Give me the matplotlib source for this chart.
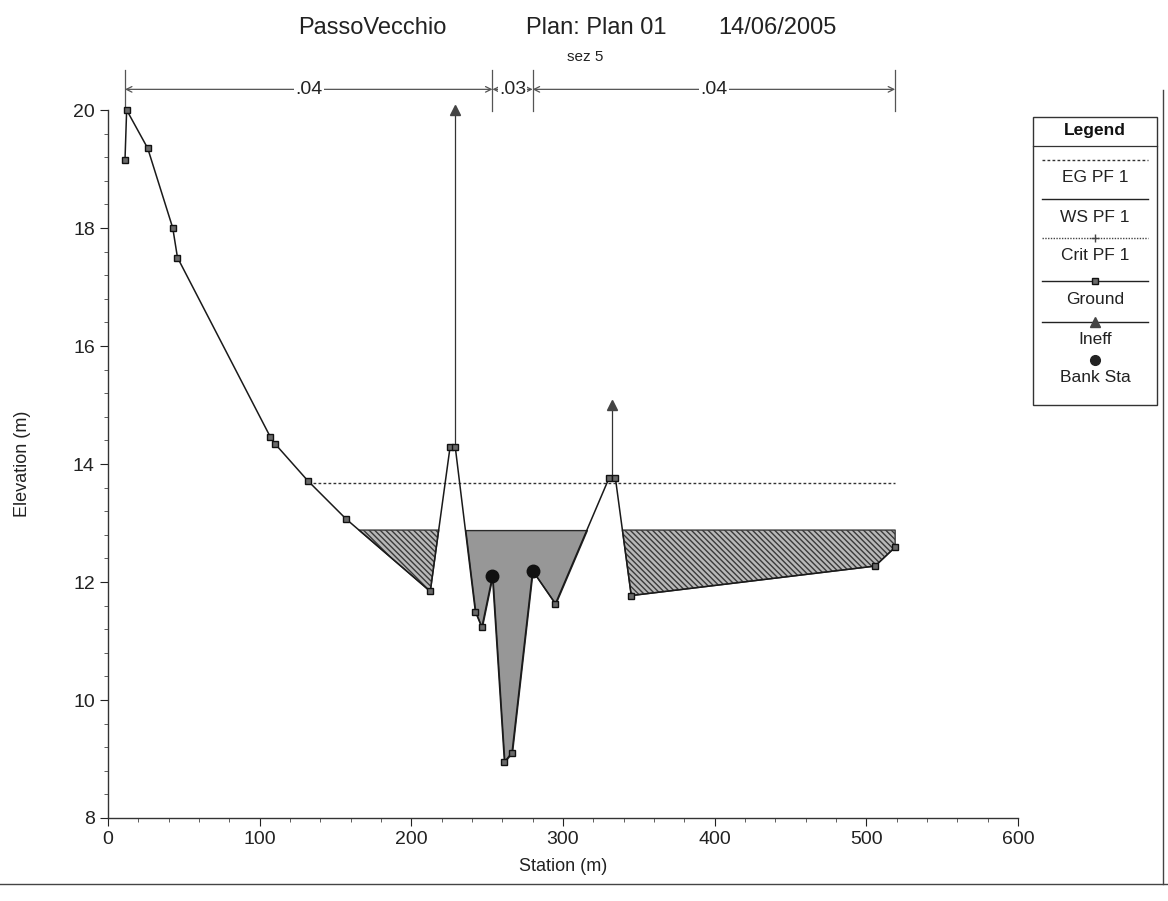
import numpy as np
import matplotlib
matplotlib.use("Agg")
import matplotlib.pyplot as plt
from matplotlib.lines import Line2D

plt.rcParams['font.family'] = ['Liberation Sans', 'DejaVu Sans']
plt.rcParams['hatch.linewidth'] = 1.0

# Cross-section "sez 5": ground profile
ground_sta = [11.2, 12.3, 26.2, 42.7, 45.8, 107.0, 110.2, 131.6, 156.9, 212.5,
              225.5, 229.0, 242.2, 246.5, 253.5, 261.4, 266.4, 280.0, 295.0,
              330.5, 334.5, 345.0, 505.8, 519.0]
ground_elev = [19.15, 20.0, 19.35, 18.0, 17.5, 14.46, 14.34, 13.72, 13.07, 11.84,
               14.28, 14.28, 11.5, 11.23, 12.1, 8.95, 9.11, 12.19, 11.63,
               13.77, 13.77, 11.77, 12.27, 12.59]

# Water profiles (PF 1)
ws_elev = 12.88
eg_elev = 13.68
eg_range = [131.6, 519.0]

# Bank stations and ineffective-flow limits
bank_sta = [253.5, 280.0]
bank_elev = [12.1, 12.19]
ineff_sta = [229.0, 332.5]
ineff_elev = [20.0, 15.0]
ineff_base = [14.28, 13.77]

# Manning's n values and their breakpoints
n_breaks = [11.2, 253.5, 280.0, 519.0]
n_values = ['.04', '.03', '.04']

W, H = 1168, 901
fig = plt.figure(figsize=(W / 100, H / 100), dpi=100)


def fx(px):
    return px / W


def fy(py):
    return 1 - py / H


ax_l, ax_r, ax_t, ax_b = 108, 1018, 110, 818
ax = fig.add_axes([fx(ax_l), fy(ax_b), fx(ax_r) - fx(ax_l), fy(ax_t) - fy(ax_b)])
ax.set_xlim(0, 600)
ax.set_ylim(8, 20)

sta = np.array(ground_sta)
gz = np.array(ground_elev)
ws = np.full_like(gz, ws_elev)
wet = gz < ws_elev

hatch_style = dict(facecolor='#b8b8b8', edgecolor='#3a3a3a',
                   hatch='\\\\\\\\\\\\', linewidth=1.0, zorder=2)
# Ineffective (hatched) overbanks and effective (solid) flow area
ax.fill_between(sta, gz, ws, where=wet & (sta < 227), interpolate=True,
                **hatch_style)
ax.fill_between(sta, gz, ws, where=wet & (sta > 227) & (sta < 332),
                interpolate=True, facecolor='#979797', edgecolor='#2a2a2a',
                linewidth=1.0, zorder=2)
ax.fill_between(sta, gz, ws, where=wet & (sta > 332), interpolate=True,
                **hatch_style)

# Energy grade line
ax.plot(eg_range, [eg_elev, eg_elev], color='#333333', lw=1.0,
        linestyle=(0, (2, 1.6)), zorder=3)

# Ineffective flow markers
for s, top, base in zip(ineff_sta, ineff_elev, ineff_base):
    ax.plot([s, s], [base, top], color='#333333', lw=0.9, zorder=3,
            clip_on=False)
ax.plot(ineff_sta, ineff_elev, linestyle='none', marker='^', markersize=7,
        color='#444444', zorder=4, clip_on=False)

# Ground
ax.plot(ground_sta, ground_elev, color='#1a1a1a', lw=1.1, marker='s',
        markersize=5, markerfacecolor='#6a6a6a', markeredgecolor='#111111',
        zorder=5, clip_on=False)

# Bank stations
ax.plot(bank_sta, bank_elev, linestyle='none', marker='o', markersize=9,
        color='#111111', zorder=6)

# Manning's n bar above the section
n_y = 20.35
for s in n_breaks:
    ax.plot([s, s], [19.98, 20.68], color='#555555', lw=0.9, clip_on=False)
for (a, b), lab in zip(zip(n_breaks[:-1], n_breaks[1:]), n_values):
    ax.annotate('', xy=(b, n_y), xytext=(a, n_y),
                arrowprops=dict(arrowstyle='<->', color='#555555', lw=0.9,
                                shrinkA=0, shrinkB=0),
                annotation_clip=False)
    ax.text((a + b) / 2, n_y, lab, ha='center', va='center', fontsize=14,
            color='#222222', clip_on=False,
            bbox=dict(facecolor='white', edgecolor='none', pad=1.0))

# Axes styling
for side in ('top', 'right'):
    ax.spines[side].set_visible(False)
for side in ('left', 'bottom'):
    ax.spines[side].set_color('#333333')
    ax.spines[side].set_linewidth(1.0)
ax.set_xticks(np.arange(0, 601, 100))
ax.set_xticks(np.arange(0, 601, 20), minor=True)
ax.set_yticks(np.arange(8, 20.1, 2))
ax.set_yticks(np.arange(8, 20.01, 0.4), minor=True)
ax.tick_params(which='major', direction='out', length=6, labelsize=14,
               colors='#222222')
ax.tick_params(which='minor', direction='out', length=3, colors='#444444')
ax.set_xlabel('Station (m)', fontsize=13, color='#222222', labelpad=7)
ax.set_ylabel('Elevation (m)', fontsize=13, color='#222222', labelpad=30)

# Title block
fig.text(fx(298), fy(28), 'PassoVecchio', fontsize=17, va='center', ha='left',
         color='#222222')
fig.text(fx(526), fy(28), 'Plan: Plan 01', fontsize=17, va='center',
         ha='left', color='#222222')
fig.text(fx(718), fy(28), '14/06/2005', fontsize=17, va='center', ha='left',
         color='#222222')
fig.text(fx(585), fy(57), 'sez 5', fontsize=11, va='center', ha='center',
         color='#222222')

# Legend box
lx0, lx1, ly0, ly1 = 1033, 1157, 117, 405
box = plt.Rectangle((fx(lx0), fy(ly1)), fx(lx1) - fx(lx0), fy(ly0) - fy(ly1),
                    transform=fig.transFigure, fill=False, edgecolor='#333333',
                    lw=1.0)
fig.add_artist(box)
lcx = (lx0 + lx1) / 2
fig.text(fx(lcx), fy(131), 'Legend', fontsize=12.5, fontweight='bold',
         ha='center', va='center', color='#111111')
fig.add_artist(Line2D([fx(lx0), fx(lx1)], [fy(146), fy(146)],
                      transform=fig.transFigure, color='#333333', lw=0.9))
sx0, sx1 = 1042, 1148
legend_rows = [
    ('EG PF 1', 160, dict(color='#333333', lw=1.0, linestyle=(0, (2, 1.6))), None),
    ('WS PF 1', 199, dict(color='#222222', lw=1.0), None),
    ('Crit PF 1', 238, dict(color='#444444', lw=1.0, linestyle=(0, (1, 1))), '+'),
    ('Ground', 281, dict(color='#222222', lw=1.0), 's'),
    ('Ineff', 322, dict(color='#222222', lw=1.0), '^'),
    ('Bank Sta', 360, None, 'o'),
]
for label, py, style, mk in legend_rows:
    if style is not None:
        fig.add_artist(Line2D([fx(sx0), fx(sx1)], [fy(py), fy(py)],
                              transform=fig.transFigure, **style))
    if mk is not None:
        mkw = dict(marker=mk, linestyle='none', transform=fig.transFigure)
        if mk == 's':
            mkw.update(markersize=5, markerfacecolor='#6a6a6a',
                       markeredgecolor='#111111')
        elif mk == '^':
            mkw.update(markersize=7, color='#444444')
        elif mk == 'o':
            mkw.update(markersize=7, color='#222222')
        else:
            mkw.update(markersize=6, color='#444444')
        fig.add_artist(Line2D([fx(lcx)], [fy(py)], **mkw))
    fig.text(fx(lcx), fy(py + 18), label, fontsize=12.5, ha='center',
             va='center', color='#222222')

# Page frame lines
fig.add_artist(Line2D([0, 1], [fy(884), fy(884)], transform=fig.transFigure,
                      color='#444444', lw=1.0))
fig.add_artist(Line2D([fx(1163), fx(1163)], [fy(90), fy(884)],
                      transform=fig.transFigure, color='#444444', lw=1.0))

fig.savefig('out.png', dpi=100, facecolor='white')
